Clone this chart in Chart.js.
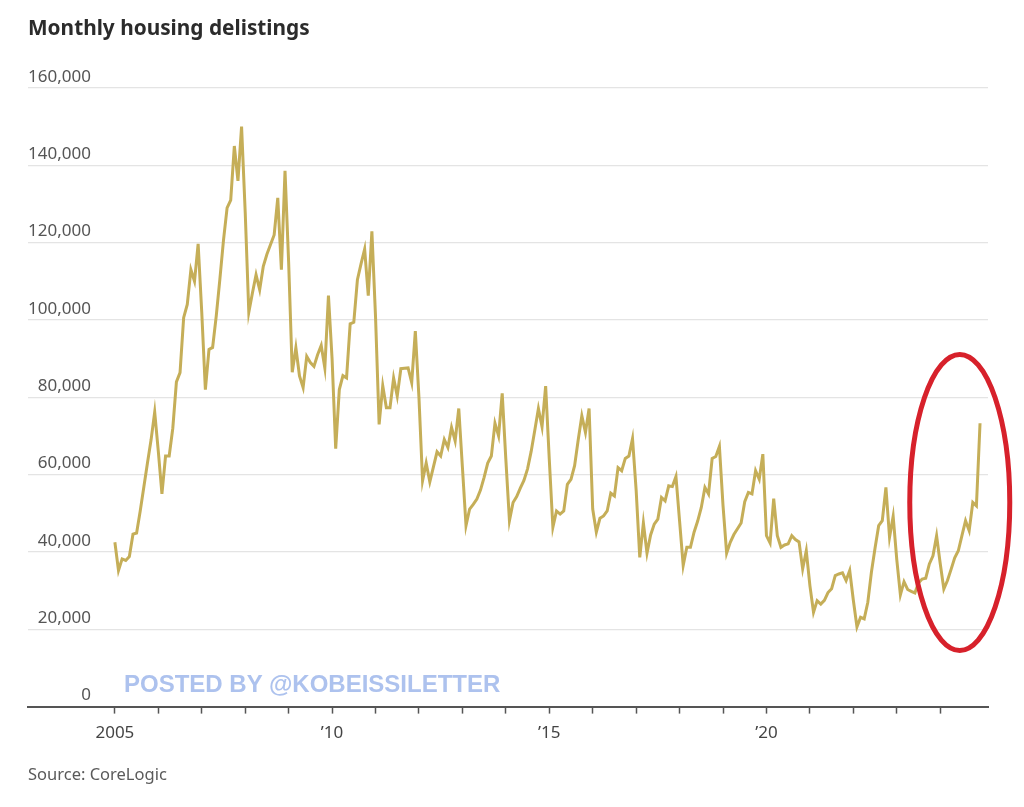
<!DOCTYPE html>
<html>
<head>
<meta charset="utf-8">
<script src="https://cdn.jsdelivr.net/npm/chart.js@4.4.1/dist/chart.umd.min.js"></script>
<style>
    html, body { margin:0; padding:0; background:#fff; }
    #wrap { position:relative; width:1024px; height:807px; overflow:hidden; }
    #chart { position:absolute; left:0; top:0; }
    .title {
        position:absolute; left:28px; top:13px;
        font-family:"Noto Sans", sans-serif; font-weight:700;
        font-size:20.8px; color:#2b2b2b;
    }
    .source {
        position:absolute; left:28px; top:762px;
        font-family:"Noto Sans", sans-serif; font-size:16.5px; color:#5a5a5a;
    }
    .watermark {
        position:absolute; left:124px; top:670px;
        font-family:"Liberation Sans", Arial, sans-serif; font-weight:700;
        font-size:24px; color:#adc2ee; white-space:nowrap;
    }
</style>
</head>
<body>
<div id="wrap">
    <canvas id="chart" width="1024" height="807"></canvas>
    <div class="title">Monthly housing delistings</div>
    <div class="watermark">POSTED BY @KOBEISSILETTER</div>
    <div class="source">Source: CoreLogic</div>
</div>

<script>
/* =====================================================
   DATA  (monthly, Jan 2005 - Dec 2024)
===================================================== */

const startYear = 2005;

const delistings = [
    42500, 35200, 38200, 37800, 38800, 44600, 44900, 50600, 56800, 63000, 69000, 76200,   // 2005
    66000, 55000, 64800, 64800, 72000, 84000, 86400, 100600, 104000, 113000, 110000, 119700, // 2006
    102000, 82000, 92400, 92900, 101000, 110500, 120600, 129000, 131000, 145000, 136000, 150000, // 2007
    128000, 102000, 107000, 111700, 107800, 113900, 117000, 119500, 122000, 131600, 113000, 138600, // 2008
    115000, 86500, 92800, 85500, 82500, 90600, 89000, 88000, 91000, 93400, 87600, 106300,  // 2009
    90000, 66700, 82000, 85600, 85000, 99000, 99400, 110400, 114500, 118300, 106300, 122900, // 2010
    101000, 73000, 83000, 77300, 77300, 85000, 80300, 87400, 87500, 87600, 83800, 97100,   // 2011
    80000, 58400, 63000, 58100, 62000, 65900, 64800, 69100, 67000, 72200, 68700, 77100,    // 2012
    62000, 46800, 51100, 52300, 53700, 56000, 59300, 63000, 64800, 73300, 70000, 81000,    // 2013
    64000, 48100, 52800, 54300, 56500, 58500, 61500, 66000, 71500, 77100, 72400, 82900,    // 2014
    64000, 46400, 50600, 49800, 50600, 57500, 58800, 62300, 69000, 75200, 70900, 77100,    // 2015
    51100, 45100, 48700, 49300, 50600, 55200, 54500, 61800, 61000, 64200, 64800, 69300,    // 2016
    56000, 38600, 47500, 39700, 44400, 47200, 48500, 54100, 53200, 57100, 56900, 59500,    // 2017
    48000, 36500, 41200, 41200, 45100, 48000, 51500, 56700, 55000, 64200, 64700, 67300,    // 2018
    52000, 39700, 42500, 44500, 46000, 47500, 53000, 55400, 55000, 61000, 58800, 65300,    // 2019
    44200, 42300, 53800, 44200, 41200, 41800, 42100, 44200, 43200, 42600, 35600, 40300,    // 2020
    31300, 24400, 27400, 26500, 27500, 29500, 30500, 33900, 34300, 34600, 32600, 35200,    // 2021
    27500, 20600, 23100, 22700, 27000, 34800, 41000, 46800, 48100, 56700, 43800, 49200,    // 2022
    38000, 28900, 32300, 30300, 29800, 29400, 32000, 33000, 33200, 36900, 39000, 44200,    // 2023
    37000, 30400, 32600, 35500, 38500, 40300, 44200, 48100, 45500, 52800, 51900, 73300     // 2024
];

const tickYears = [2005, 2006, 2007, 2008, 2009, 2010, 2011, 2012, 2013, 2014,
                   2015, 2016, 2017, 2018, 2019, 2020, 2021, 2022, 2023, 2024];

const labeledYears = [2005, 2010, 2015, 2020];

const yearLabels = ["2005", "\u201910", "\u201915", "\u201920"];

const yTicks = [0, 20000, 40000, 60000, 80000, 100000, 120000, 140000, 160000];


/* =========================
   HELPERS
========================= */

const monthIndex = year => (year - startYear) * 12;

const points =
delistings.map(
    (v, i) => ({ x: i, y: v })
);

const FONT = "'Noto Sans', sans-serif";


/* =========================
   HIGHLIGHT ELLIPSE
========================= */

const highlight = { month: 233.4, value: 52800, rx: 50, ry: 148 };

const ellipsePlugin = {

    id: "highlightEllipse",

    afterDatasetsDraw(chart){

        const { ctx, scales } = chart;

        const cx = scales.x.getPixelForValue(highlight.month);
        const cy = scales.y.getPixelForValue(highlight.value);

        ctx.save();
        ctx.beginPath();
        ctx.ellipse(cx, cy, highlight.rx, highlight.ry, 0, 0, Math.PI * 2);
        ctx.strokeStyle = "#d7212b";
        ctx.lineWidth = 5;
        ctx.stroke();
        ctx.restore();

    }

};


/* =========================
   CHART
========================= */

new Chart(document.getElementById("chart"), {

    type: "line",

    data: {

        datasets: [{

            data: points,

            borderColor: "#c5ae58",

            borderWidth: 3,

            pointRadius: 0,

            tension: 0,

            clip: false

        }]

    },

    options: {

        responsive: false,

        animation: false,

        devicePixelRatio: 1,

        layout: {
            padding: { left: 28, right: 36, top: 88, bottom: 55 }
        },

        plugins: {
            legend: { display: false },
            tooltip: { enabled: false }
        },

        scales: {

            x: {

                type: "linear",

                min: -24,

                max: 241.2,

                afterBuildTicks: scale => {
                    scale.ticks = tickYears.map(y => ({ value: monthIndex(y) }));
                },

                ticks: {
                    autoSkip: false,
                    maxRotation: 0,
                    padding: 9,
                    color: "#444",
                    font: { family: FONT, size: 17 },
                    callback: value => {
                        const idx = labeledYears.findIndex(y => monthIndex(y) === value);
                        return idx >= 0 ? yearLabels[idx] : "";
                    }
                },

                grid: {
                    drawOnChartArea: false,
                    drawTicks: true,
                    tickLength: 7,
                    tickColor: "#555",
                    tickWidth: 1.5
                },

                border: {
                    display: true,
                    color: "#555",
                    width: 2
                }

            },

            y: {

                min: 0,

                max: 160000,

                afterBuildTicks: scale => {
                    scale.ticks = yTicks.map(v => ({ value: v }));
                },

                ticks: {
                    mirror: true,
                    crossAlign: "far",
                    padding: 0,
                    labelOffset: -11,
                    color: "#555",
                    font: { family: FONT, size: 17 },
                    callback: value => value.toLocaleString("en-US")
                },

                grid: {
                    drawTicks: false,
                    color: ctx => ctx.tick && ctx.tick.value === 0 ? "rgba(0,0,0,0)" : "#e4e4e4",
                    lineWidth: 1.2
                },

                border: { display: false }

            }

        }

    },

    plugins: [ ellipsePlugin ]

});
</script>
</body>
</html>
